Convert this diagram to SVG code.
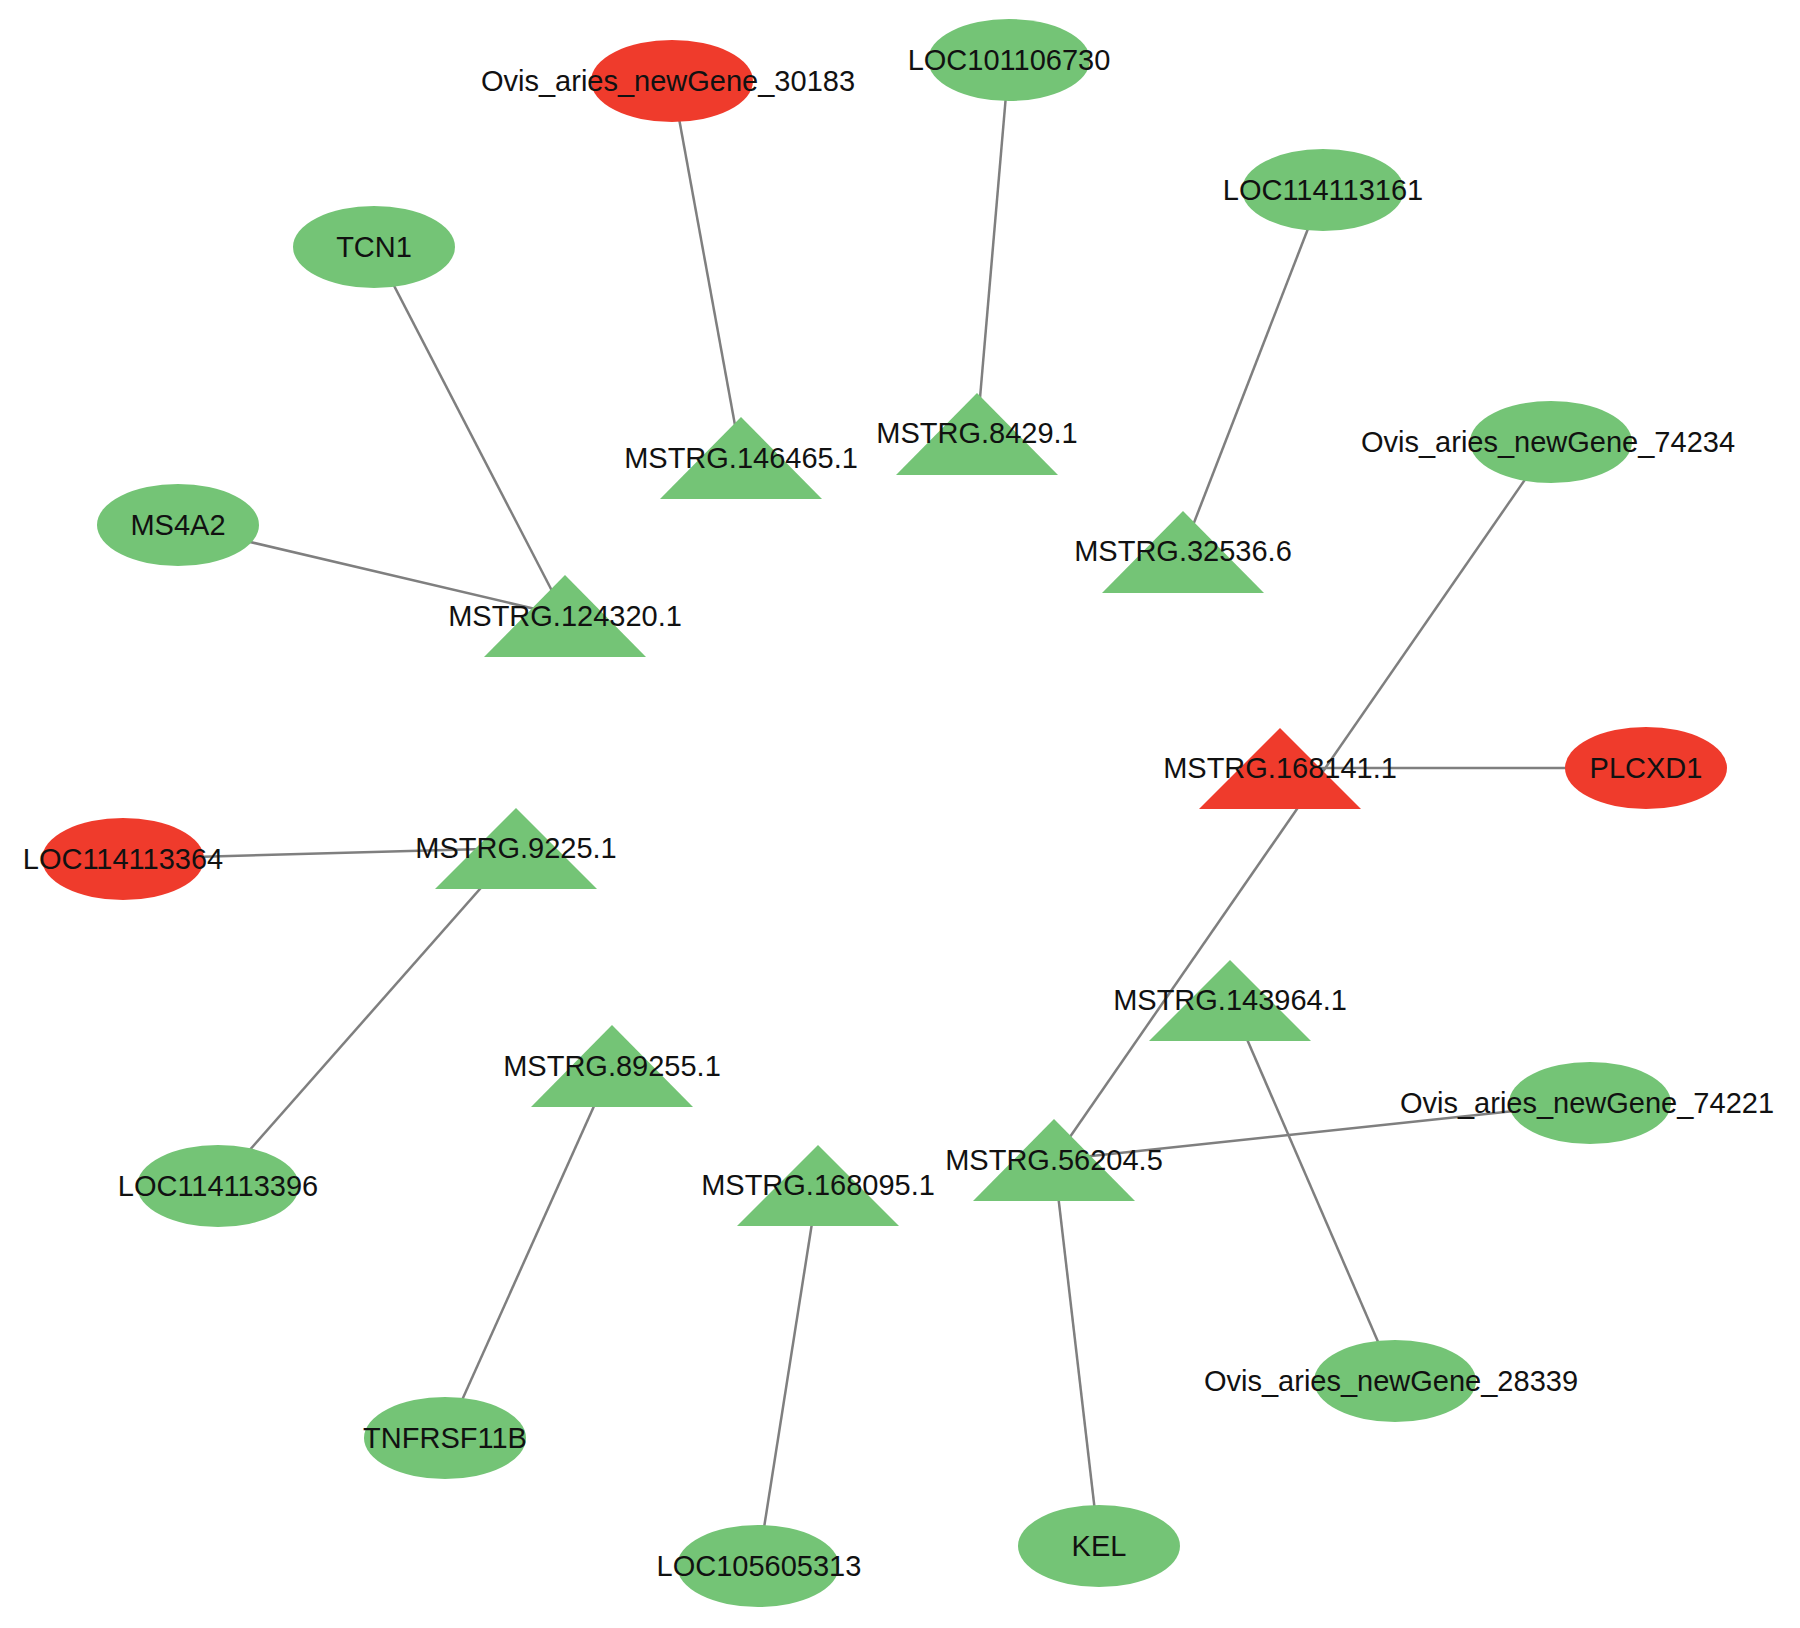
<svg xmlns="http://www.w3.org/2000/svg" width="1800" height="1628" viewBox="0 0 1800 1628">
<style>
.g{fill:#74C476}
.r{fill:#EF3B2C}
.e{stroke:#7F7F7F;stroke-width:2.5;fill:none}
text{font-family:"Liberation Sans",Arial,sans-serif;font-size:29px;fill:#111;text-anchor:middle}
</style>
<rect width="1800" height="1628" fill="#fff"/>
<g id="edges">
<line class="e" x1="672" y1="80" x2="741" y2="458"/>
<line class="e" x1="1009" y1="60" x2="977" y2="433"/>
<line class="e" x1="374" y1="247" x2="565" y2="616"/>
<line class="e" x1="178" y1="525" x2="565" y2="616"/>
<line class="e" x1="1323" y1="190" x2="1183" y2="551"/>
<line class="e" x1="1551" y1="442" x2="1054" y2="1160"/>
<line class="e" x1="1280" y1="768" x2="1646" y2="768"/>
<line class="e" x1="123" y1="859" x2="516" y2="848"/>
<line class="e" x1="516" y1="848" x2="218" y2="1186"/>
<line class="e" x1="612" y1="1066" x2="445" y2="1438"/>
<line class="e" x1="818" y1="1185" x2="758" y2="1566"/>
<line class="e" x1="1054" y1="1160" x2="1590" y2="1103"/>
<line class="e" x1="1054" y1="1160" x2="1099" y2="1546"/>
<line class="e" x1="1230" y1="1000" x2="1395" y2="1381"/>
</g>
<g id="n_ovis30183"><ellipse class="r" cx="672" cy="81" rx="81" ry="41"/><text x="668" y="91">Ovis_aries_newGene_30183</text></g>
<g id="n_loc101106730"><ellipse class="g" cx="1009" cy="60" rx="81" ry="41"/><text x="1009" y="70">LOC101106730</text></g>
<g id="n_tcn1"><ellipse class="g" cx="374" cy="247" rx="81" ry="41"/><text x="374" y="257">TCN1</text></g>
<g id="n_loc114113161"><ellipse class="g" cx="1323" cy="190" rx="81" ry="41"/><text x="1323" y="200">LOC114113161</text></g>
<g id="n_ms4a2"><ellipse class="g" cx="178" cy="525" rx="81" ry="41"/><text x="178" y="535">MS4A2</text></g>
<g id="n_mstrg146465"><polygon class="g" points="741,417 822,499 660,499"/><text x="741" y="468">MSTRG.146465.1</text></g>
<g id="n_mstrg8429"><polygon class="g" points="977,393 1058,475 896,475"/><text x="977" y="443">MSTRG.8429.1</text></g>
<g id="n_mstrg32536"><polygon class="g" points="1183,511 1264,593 1102,593"/><text x="1183" y="561">MSTRG.32536.6</text></g>
<g id="n_mstrg124320"><polygon class="g" points="565,575 646,657 484,657"/><text x="565" y="626">MSTRG.124320.1</text></g>
<g id="n_ovis74234"><ellipse class="g" cx="1551" cy="442" rx="81" ry="41"/><text x="1548" y="452">Ovis_aries_newGene_74234</text></g>
<g id="n_mstrg168141"><polygon class="r" points="1280,728 1361,809 1199,809"/><text x="1280" y="778">MSTRG.168141.1</text></g>
<g id="n_plcxd1"><ellipse class="r" cx="1646" cy="768" rx="81" ry="41"/><text x="1646" y="778">PLCXD1</text></g>
<g id="n_loc114113364"><ellipse class="r" cx="123" cy="859" rx="81" ry="41"/><text x="123" y="869">LOC114113364</text></g>
<g id="n_mstrg9225"><polygon class="g" points="516,808 597,889 435,889"/><text x="516" y="858">MSTRG.9225.1</text></g>
<g id="n_loc114113396"><ellipse class="g" cx="218" cy="1186" rx="81" ry="41"/><text x="218" y="1196">LOC114113396</text></g>
<g id="n_mstrg89255"><polygon class="g" points="612,1025 693,1107 531,1107"/><text x="612" y="1076">MSTRG.89255.1</text></g>
<g id="n_mstrg143964"><polygon class="g" points="1230,960 1311,1041 1149,1041"/><text x="1230" y="1010">MSTRG.143964.1</text></g>
<g id="n_ovis74221"><ellipse class="g" cx="1590" cy="1103" rx="81" ry="41"/><text x="1587" y="1113">Ovis_aries_newGene_74221</text></g>
<g id="n_mstrg56204"><polygon class="g" points="1054,1119 1135,1201 973,1201"/><text x="1054" y="1170">MSTRG.56204.5</text></g>
<g id="n_mstrg168095"><polygon class="g" points="818,1145 899,1226 737,1226"/><text x="818" y="1195">MSTRG.168095.1</text></g>
<g id="n_tnfrsf11b"><ellipse class="g" cx="445" cy="1438" rx="81" ry="41"/><text x="445" y="1448">TNFRSF11B</text></g>
<g id="n_ovis28339"><ellipse class="g" cx="1395" cy="1381" rx="81" ry="41"/><text x="1391" y="1391">Ovis_aries_newGene_28339</text></g>
<g id="n_kel"><ellipse class="g" cx="1099" cy="1546" rx="81" ry="41"/><text x="1099" y="1556">KEL</text></g>
<g id="n_loc105605313"><ellipse class="g" cx="758" cy="1566" rx="81" ry="41"/><text x="759" y="1576">LOC105605313</text></g>
</svg>
